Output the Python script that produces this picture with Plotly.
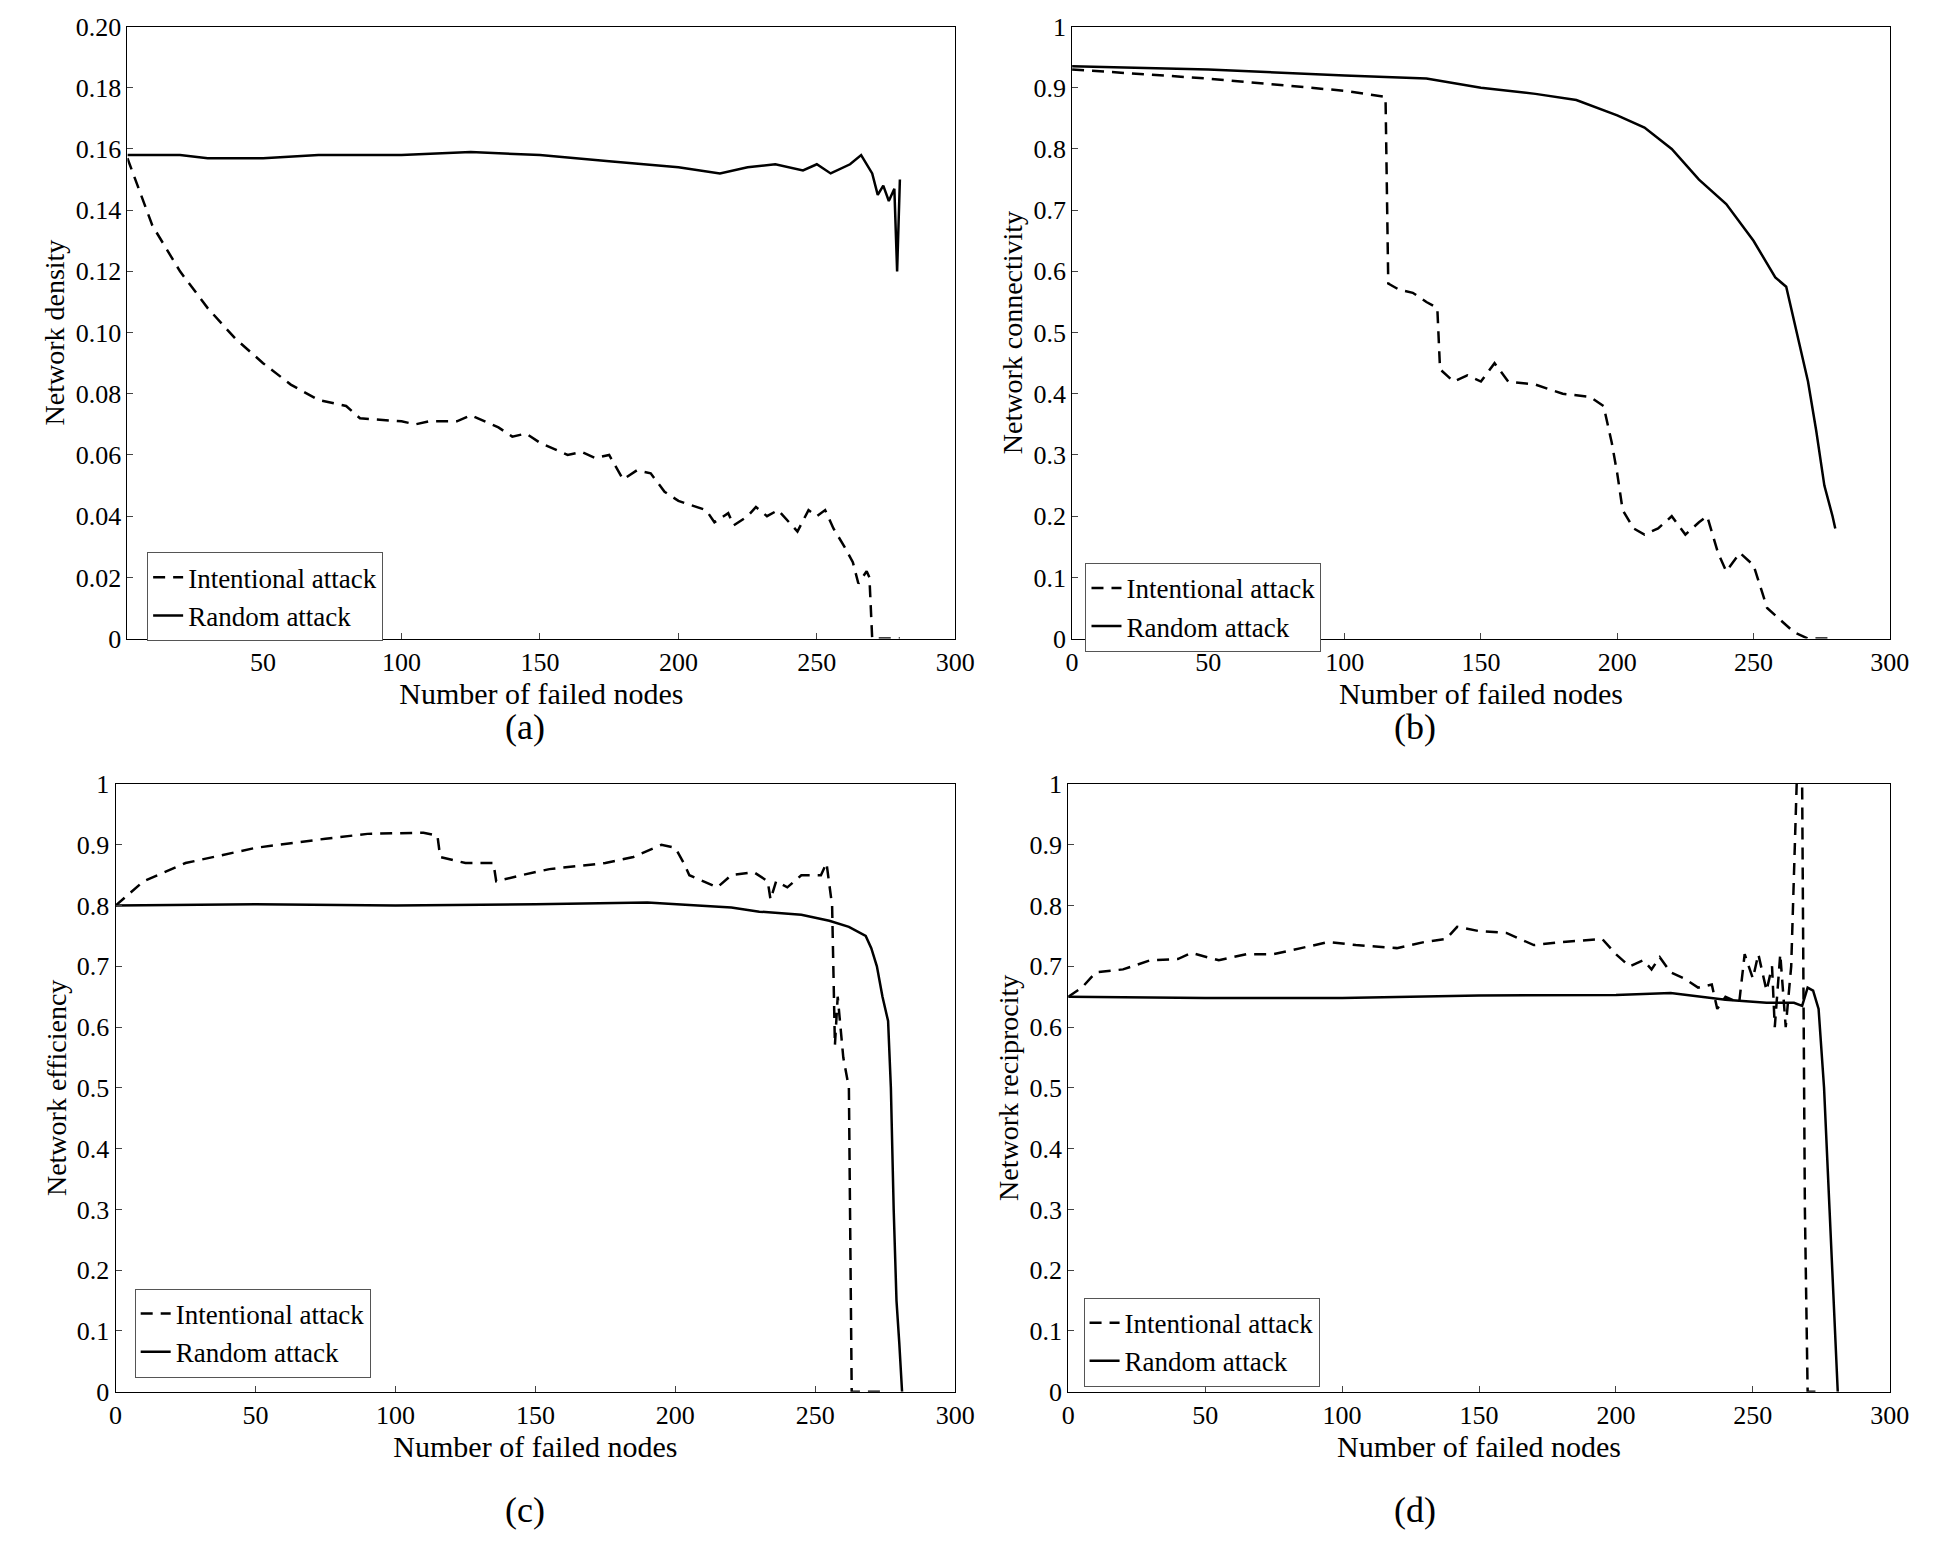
import plotly.graph_objects as go

FONT = "Liberation Serif"

# (a) network density
a_int_x = [1, 10, 20, 30, 40, 50, 60, 70, 80, 85, 100, 105, 110, 120, 125, 130, 135, 140, 145, 150, 160, 165,
           170, 175, 180, 185, 190, 195, 200, 210, 213, 218, 220, 225, 228, 232, 236, 240, 243, 247, 250, 253,
           256, 260, 263, 265, 268, 269, 270, 280]
a_int_y = [0.157, 0.135, 0.12, 0.108, 0.098, 0.09, 0.083, 0.078, 0.076, 0.072, 0.071, 0.070, 0.071, 0.071, 0.073,
           0.071, 0.069, 0.066, 0.067, 0.064, 0.060, 0.061, 0.059, 0.060, 0.052, 0.055, 0.054, 0.048, 0.045, 0.042,
           0.038, 0.041, 0.037, 0.040, 0.043, 0.040, 0.042, 0.038, 0.035, 0.042, 0.040, 0.042, 0.036, 0.030, 0.025,
           0.018, 0.022, 0.020, 0.0, 0.0]
a_rnd_x = [1, 20, 30, 50, 70, 100, 125, 150, 175, 200, 215, 225, 235, 245, 250, 255, 262, 266, 270, 272, 274, 276,
           278, 279, 280]
a_rnd_y = [0.158, 0.158, 0.157, 0.157, 0.158, 0.158, 0.159, 0.158, 0.156, 0.154, 0.152, 0.154, 0.155, 0.153, 0.155,
           0.152, 0.155, 0.158, 0.152, 0.145, 0.148, 0.143, 0.147, 0.12, 0.15]

# (b) network connectivity
b_int_x = [0, 50, 100, 115, 116, 120, 125, 130, 134, 135, 140, 145, 150, 155, 160, 170, 180, 190, 195, 198, 200,
           202, 206, 210, 215, 220, 225, 230, 233, 237, 240, 245, 250, 255, 260, 265, 270, 280]
b_int_y = [0.93, 0.915, 0.895, 0.885, 0.58, 0.57, 0.565, 0.55, 0.54, 0.44, 0.42, 0.43, 0.42, 0.45, 0.42, 0.415, 0.40,
           0.395, 0.38, 0.32, 0.27, 0.21, 0.18, 0.17, 0.18, 0.20, 0.17, 0.19, 0.20, 0.14, 0.11, 0.14, 0.12, 0.05,
           0.03, 0.01, 0.0, 0.0]
b_rnd_x = [0, 50, 100, 130, 150, 170, 185, 200, 210, 220, 230, 240, 250, 258, 262, 266, 270, 273, 276, 279, 280]
b_rnd_y = [0.935, 0.93, 0.92, 0.915, 0.90, 0.89, 0.88, 0.855, 0.835, 0.80, 0.75, 0.71, 0.65, 0.59, 0.575, 0.50,
           0.42, 0.34, 0.25, 0.20, 0.18]

# (c) network efficiency
c_int_x = [0, 10, 25, 50, 75, 90, 110, 115, 116, 125, 135, 136, 145, 155, 165, 175, 185, 195, 200, 203, 205, 210,
           215, 220, 228, 233, 234, 236, 240, 245, 252, 254, 256, 257, 258, 260, 262, 263, 275]
c_int_y = [0.80, 0.84, 0.87, 0.895, 0.91, 0.918, 0.92, 0.915, 0.88, 0.87, 0.87, 0.84, 0.85, 0.86, 0.865, 0.87, 0.88,
           0.90, 0.895, 0.87, 0.85, 0.84, 0.83, 0.85, 0.855, 0.84, 0.81, 0.84, 0.83, 0.85, 0.85, 0.87, 0.80, 0.57,
           0.65, 0.55, 0.50, 0.0, 0.0]
c_rnd_x = [0, 50, 100, 150, 190, 200, 210, 220, 230, 245, 255, 262, 268, 270, 272, 274, 276, 277, 278, 279, 280, 281]
c_rnd_y = [0.80, 0.802, 0.80, 0.802, 0.805, 0.802, 0.80, 0.797, 0.79, 0.785, 0.775, 0.765, 0.75, 0.73, 0.70, 0.65,
           0.61, 0.50, 0.30, 0.15, 0.08, 0.0]

# (d) network reciprocity
d_int_x = [0, 5, 10, 20, 30, 40, 45, 55, 65, 75, 85, 95, 105, 120, 130, 138, 142, 150, 160, 170, 180, 195, 200, 205,
           210, 213, 216, 220, 225, 230, 235, 237, 240, 245, 247, 250, 252, 255, 257, 258, 260, 262, 264, 266, 268,
           269, 270, 275]
d_int_y = [0.65, 0.665, 0.69, 0.695, 0.71, 0.712, 0.722, 0.71, 0.72, 0.72, 0.73, 0.74, 0.735, 0.73, 0.74, 0.745,
           0.765, 0.758, 0.755, 0.735, 0.74, 0.745, 0.72, 0.70, 0.71, 0.695, 0.715, 0.69, 0.68, 0.665, 0.67, 0.63,
           0.65, 0.64, 0.72, 0.68, 0.72, 0.66, 0.70, 0.60, 0.72, 0.60, 0.70, 1.0, 1.0, 0.30, 0.0, 0.0]
d_rnd_x = [0, 50, 100, 150, 200, 220, 240, 255, 265, 268, 270, 272, 274, 276, 278, 280, 281]
d_rnd_y = [0.65, 0.648, 0.648, 0.652, 0.653, 0.656, 0.645, 0.64, 0.64, 0.635, 0.665, 0.66, 0.63, 0.50, 0.30, 0.10,
           0.0]

panels = [
    ("(a)", "Network density", a_int_x, a_int_y, a_rnd_x, a_rnd_y),
    ("(b)", "Network connectivity", b_int_x, b_int_y, b_rnd_x, b_rnd_y),
    ("(c)", "Network efficiency", c_int_x, c_int_y, c_rnd_x, c_rnd_y),
    ("(d)", "Network reciprocity", d_int_x, d_int_y, d_rnd_x, d_rnd_y),
]

xdom = [[0.0587, 0.491], [0.552, 0.979], [0.0525, 0.491], [0.550, 0.979]]
ydom = [[0.593, 0.997], [0.593, 0.997], [0.0959, 0.497], [0.0959, 0.497]]
legpos = [(0.069, 0.650), (0.559, 0.643), (0.0625, 0.164), (0.558, 0.158)]
capx = [0.255, 0.743, 0.255, 0.743]
capy = [0.52, 0.52, 0.003, 0.003]

fig = go.Figure()
for i, (cap, ytitle, ix, iy, rx, ry) in enumerate(panels):
    n = "" if i == 0 else str(i + 1)
    leg = "legend" if i == 0 else "legend" + str(i + 1)
    fig.add_trace(go.Scatter(x=ix, y=iy, mode="lines", name="Intentional attack", xaxis="x" + n, yaxis="y" + n,
                             line={"color": "black", "width": 2.5, "dash": "12px,8px"}, legend=leg))
    fig.add_trace(go.Scatter(x=rx, y=ry, mode="lines", name="Random attack", xaxis="x" + n, yaxis="y" + n,
                             line={"color": "black", "width": 2.5}, legend=leg))
    ax = dict(domain=xdom[i], anchor="y" + n, showline=True, mirror=True, linecolor="black", linewidth=1,
              ticks="inside", ticklen=6, showgrid=False, zeroline=False,
              title={"text": "Number of failed nodes", "font": {"size": 30}, "standoff": 4},
              tickvals=[0, 50, 100, 150, 200, 250, 300] if i else [50, 100, 150, 200, 250, 300],
              range=[1, 300] if i == 0 else [0, 300])
    if i == 0:
        yr, yt, ytt = [0, 0.2], [j * 0.02 for j in range(11)], ["0"] + ["%.2f" % (j * 0.02) for j in range(1, 11)]
    else:
        yr, yt = [0, 1], [j * 0.1 for j in range(11)]
        ytt = ["0"] + ["%.1f" % (j * 0.1) for j in range(1, 10)] + ["1"]
    ay = dict(domain=ydom[i], anchor="x" + n, showline=True, mirror=True, linecolor="black", linewidth=1,
              ticks="inside", ticklen=6, showgrid=False, zeroline=False, range=yr, tickvals=yt, ticktext=ytt,
              title={"text": ytitle, "font": {"size": 28}, "standoff": 2})
    fig.update_layout({"xaxis" + n: ax, "yaxis" + n: ay})
    fig.add_annotation(text=cap, xref="paper", yref="paper", x=capx[i], y=capy[i], yanchor="bottom",
                       showarrow=False, font={"size": 36})

legends = {}
for i in range(4):
    key = "legend" if i == 0 else "legend" + str(i + 1)
    legends[key] = dict(x=legpos[i][0], y=legpos[i][1], xanchor="left", yanchor="top", bgcolor="white",
                        bordercolor="#555", borderwidth=1, font={"size": 27, "family": FONT}, tracegroupgap=0)
fig.update_layout(**legends)

fig.update_layout(width=1942, height=1544, plot_bgcolor="white", paper_bgcolor="white",
                  margin={"l": 0, "r": 0, "t": 0, "b": 0}, font={"family": FONT, "size": 26, "color": "black"})
fig.write_html("out.html")
